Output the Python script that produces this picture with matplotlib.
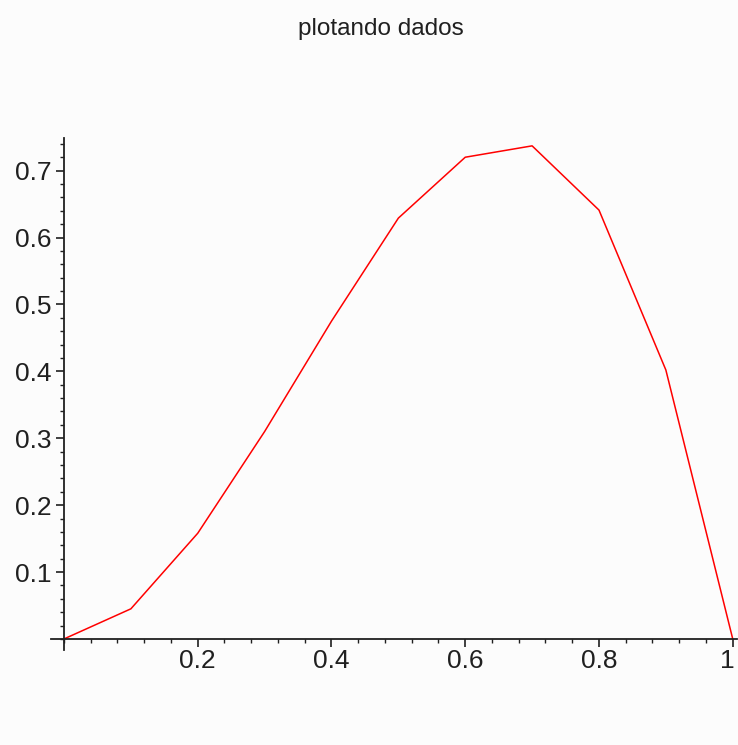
import matplotlib
matplotlib.use('Agg')
import matplotlib.pyplot as plt
import matplotlib.transforms as mtransforms
from matplotlib.ticker import MultipleLocator, FixedLocator

# data
x_vals = [0.0, 0.1, 0.2, 0.3, 0.4, 0.5, 0.6, 0.7, 0.8, 0.9, 1.0]
y_vals = [0.0, 0.045, 0.158, 0.31, 0.475, 0.629, 0.72, 0.737, 0.641, 0.402, 0.0]

x_ticks = [0.2, 0.4, 0.6, 0.8, 1.0]
x_labels = ['0.2', '0.4', '0.6', '0.8', '1']
y_ticks = [0.1, 0.2, 0.3, 0.4, 0.5, 0.6, 0.7]
y_labels = ['0.1', '0.2', '0.3', '0.4', '0.5', '0.6', '0.7']

TITLE = 'plotando dados'
BG = '#fcfcfc'

plt.rcParams['font.family'] = ['Liberation Sans', 'DejaVu Sans']

fig = plt.figure(figsize=(7.38, 7.45), dpi=100, facecolor=BG)
ax = fig.add_axes([0.0686, 0.128, 0.9297, 0.687])
ax.set_facecolor(BG)

ax.plot(x_vals, y_vals, color='#ff0000', linewidth=1.1)

ax.set_xlim(-0.02, 1.006)
ax.set_ylim(-0.016, 0.749)

for s in ('top', 'right'):
    ax.spines[s].set_visible(False)
ax.spines['left'].set_position(('data', 0))
ax.spines['bottom'].set_position(('data', 0))
for s in ('left', 'bottom'):
    ax.spines[s].set_linewidth(1.3)
    ax.spines[s].set_color('#202020')

ax.xaxis.set_major_locator(FixedLocator(x_ticks))
ax.set_xticklabels(x_labels)
ax.yaxis.set_major_locator(FixedLocator(y_ticks))
ax.set_yticklabels(y_labels)
ax.xaxis.set_minor_locator(MultipleLocator(0.04))
ax.yaxis.set_minor_locator(MultipleLocator(0.02))

ax.tick_params(which='major', direction='out', length=5.5, width=1.2,
               labelsize=19, colors='#202020')
ax.tick_params(which='minor', direction='out', length=3, width=1.0,
               colors='#202020')
ax.tick_params(axis='x', which='major', pad=1.5)
ax.tick_params(axis='y', which='major', pad=3.5)

# keep the "1" at the right edge inside the picture
last = ax.get_xticklabels()[-1]
last.set_transform(last.get_transform() +
                   mtransforms.ScaledTranslation(-5 / 100, 0, fig.dpi_scale_trans))

fig.text(381 / 738, 1 - 29 / 745, TITLE, ha='center', va='center',
         fontsize=17.5, color='#202020')

fig.savefig('out.png', dpi=100, facecolor=BG)
